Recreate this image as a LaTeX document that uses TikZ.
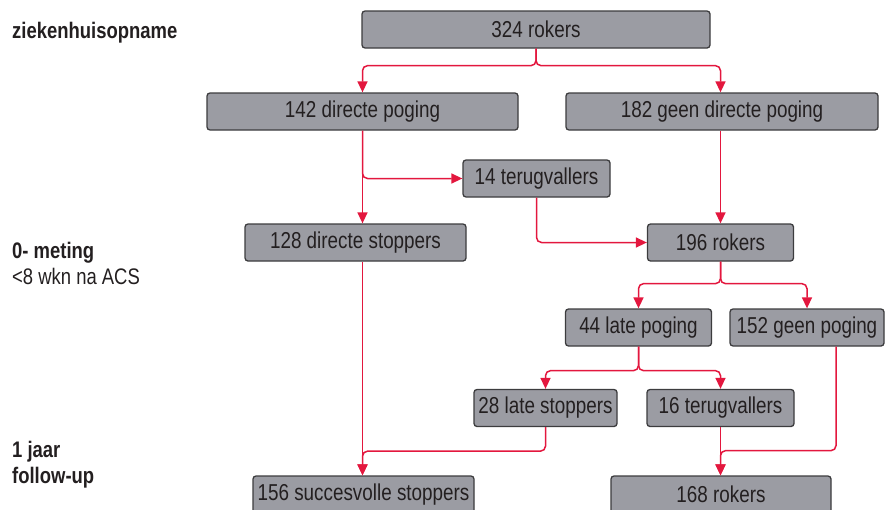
\documentclass[tikz,border=0pt]{standalone}
\usepackage{fontspec}
\setmainfont{Liberation Sans}[FakeStretch=0.82]
\usetikzlibrary{arrows.meta}
\definecolor{boxgray}{HTML}{9B9CA3}
\definecolor{boxline}{HTML}{3C3C3E}
\definecolor{flowred}{HTML}{E3173E}
\definecolor{inkgray}{HTML}{231F20}
\tikzset{
  box/.style={draw=boxline, fill=boxgray, line width=1.3pt, rounded corners=3pt,
    minimum height=37pt, inner sep=0pt, text=inkgray, font=\fontsize{23}{27}\selectfont},
  flow/.style={draw=flowred, line width=1.5pt, rounded corners=5pt,
    -{Triangle[length=11pt,width=10pt]}},
  phase/.style={anchor=west, align=left, inner sep=0pt, text=inkgray,
    font=\fontsize{22.5}{26}\selectfont}
}
\begin{document}
\begin{tikzpicture}[x=1pt,y=-1pt]
		\useasboundingbox (0,0) rectangle (892,509);
		% fasen links
		\node[phase] (p1) at (12,33) {\textbf{ziekenhuisopname}};
		\node[phase] (p2) at (12,263) {\textbf{0- meting}\\<8 wkn na ACS};
		\node[phase] (p3) at (12,464.5) {\textbf{1 jaar}\\\textbf{follow-up}};
		% dozen
		\node[box, minimum width=348pt] (r324) at (536,29.5) {324 rokers};
		\node[box, minimum width=311pt] (d142) at (362.5,111.5) {142 directe poging};
		\node[box, minimum width=312pt] (g182) at (722,111.5) {182 geen directe poging};
		\node[box, minimum width=147pt] (t14) at (536.5,178.5) {14 terugvallers};
		\node[box, minimum width=221pt] (s128) at (355.5,242.5) {128 directe stoppers};
		\node[box, minimum width=146pt] (r196) at (720.5,242.5) {196 rokers};
		\node[box, minimum width=146pt] (l44) at (638.5,327.5) {44 late poging};
		\node[box, minimum width=154pt] (g152) at (807,327.5) {152 geen poging};
		\node[box, minimum width=143pt] (s28) at (545.5,408) {28 late stoppers};
		\node[box, minimum width=147pt] (t16) at (720.5,408) {16 terugvallers};
		\node[box, minimum width=221pt] (s156) at (363.5,494.5) {156 succesvolle stoppers};
		\node[box, minimum width=220pt] (r168) at (721,494.5) {168 rokers};
		% verbindingen
		\draw[flow] (r324.south) -- ++(0,17) -| (d142.north);
		\draw[flow] (r324.south) -- ++(0,17) -| ([xshift=-1.5pt]g182.north);
		\draw[flow] (d142.south) -- (d142.south |- s128.north);
		\draw[flow] (d142.south) |- (t14.west);
		\draw[flow] (t14.south) |- (r196.west);
		\draw[flow] ([xshift=-1.5pt]g182.south) -- ([xshift=-1.5pt]g182.south |- r196.north);
		\draw[flow] (r196.south) -- ++(0,22) -| (l44.north);
		\draw[flow] (r196.south) -- ++(0,22) -| (g152.north);
		\draw[flow] (l44.south) -- ++(0,24) -| (s28.north);
		\draw[flow] (l44.south) -- ++(0,24) -| (t16.north);
		\draw[flow] (s128.south -| d142.south) -- (s156.north -| d142.south);
		\draw[flow] (s28.south) -- ++(0,24) -| (s156.north -| d142.south);
		\draw[flow] (t16.south) -- (t16.south |- r168.north);
		\draw[flow] ([xshift=29pt]g152.south) -- ++(0,104) -| (t16.south |- r168.north);
	\end{tikzpicture}
\end{document}
